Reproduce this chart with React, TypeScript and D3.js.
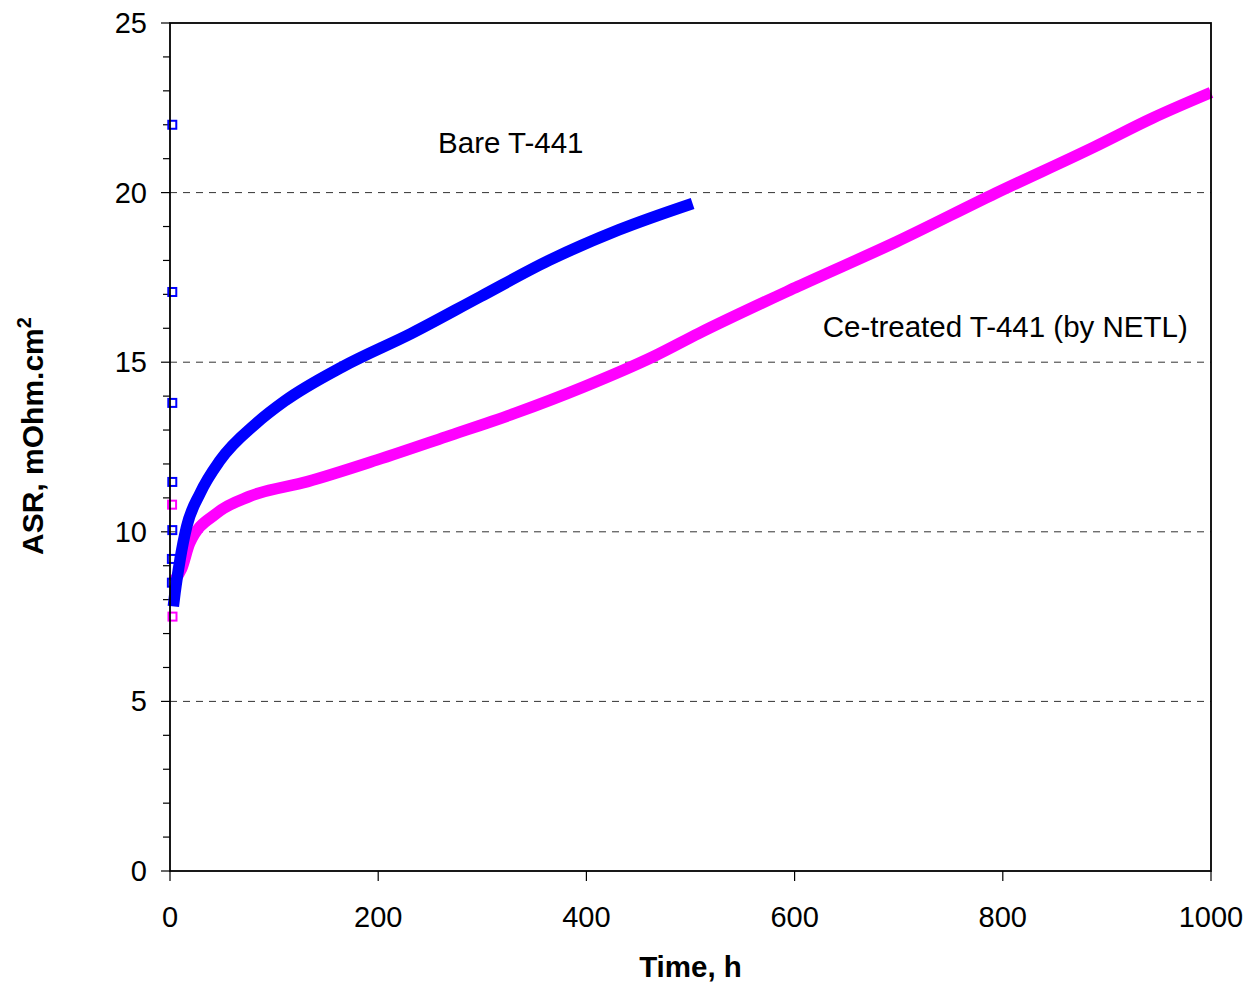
import React from 'react';
import * as d3 from 'd3';

// Bare T-441: first readings (drawn as open squares) and the main run
const bareStartTime = [2.2, 2.2, 2.2, 2.2, 2.2, 1.8, 1.8];
const bareStartAsr = [22.0, 17.07, 13.8, 11.47, 10.05, 9.2, 8.5];
const bareTime = [3.2, 4.8, 9.6, 16, 29, 48, 83, 110, 166, 232, 298, 364, 431, 502];
const bareAsr = [7.8, 8.2, 9.17, 10.15, 11.14, 12.1, 13.2, 13.85, 14.87, 15.85, 16.93, 18.0, 18.9, 19.68];

// Ce-treated T-441 (by NETL)
const ceStartTime = [2.0, 2.4];
const ceStartAsr = [10.8, 7.5];
const ceTime = [2.5, 11, 19, 45, 77, 132, 199, 265, 331, 398, 464, 508, 603, 698, 793, 888, 944, 1000];
const ceAsr = [8.5, 8.9, 9.67, 10.55, 11.05, 11.48, 12.12, 12.8, 13.49, 14.28, 15.16, 15.85, 17.23, 18.55, 19.98, 21.35, 22.2, 22.95];

const xTicks = [0, 200, 400, 600, 800, 1000];
const yTicks = [0, 5, 10, 15, 20, 25];
const gridValues = [5, 10, 15, 20];

const BLUE = '#0000FF';
const MAGENTA = '#FF00FF';
const FONT = '"Liberation Sans", Arial, sans-serif';

const App = () => {
  const width = 1247;
  const height = 984;
  const left = 170, right = 1211, top = 23, bottom = 871;

  const x = d3.scaleLinear().domain([0, 1000]).range([left, right]);
  const y = d3.scaleLinear().domain([0, 25]).range([bottom, top]);

  const line = d3.line<[number, number]>()
    .x(d => x(d[0]))
    .y(d => y(d[1]))
    .curve(d3.curveMonotoneX);

  const barePath = line(bareTime.map((t, i) => [t, bareAsr[i]]));
  const cePath = line(ceTime.map((t, i) => [t, ceAsr[i]]));

  const minorTicks = d3.range(0, 26, 1);

  const square = (t: number, v: number, color: string, key: string) => (
    <rect key={key} x={x(t) - 4} y={y(v) - 4} width={8} height={8}
      fill="none" stroke={color} strokeWidth={2} />
  );

  return (
    <svg width={width} height={height}
      style={{ position: 'absolute', left: 0, top: 0, background: '#fff' }}
      fontFamily={FONT}>
      <rect x={0} y={0} width={width} height={height} fill="#fff" />

      {/* dashed gridlines */}
      {gridValues.map(v => (
        <line key={'g' + v} x1={left} x2={right} y1={y(v)} y2={y(v)}
          stroke="#333" strokeWidth={1} strokeDasharray="7,6" />
      ))}

      {/* y ticks */}
      {minorTicks.map(v => (
        <line key={'m' + v} x1={left - (v % 5 === 0 ? 9 : 7)} x2={left}
          y1={y(v)} y2={y(v)} stroke="#000" strokeWidth={1.2} />
      ))}
      {yTicks.map(v => (
        <text key={'yl' + v} x={147} y={y(v) + 10} fontSize={29}
          textAnchor="end" fill="#000">{v}</text>
      ))}

      {/* x ticks */}
      {xTicks.map(v => (
        <g key={'x' + v}>
          <line x1={x(v)} x2={x(v)} y1={bottom} y2={bottom + 10} stroke="#000" strokeWidth={1.2} />
          <text x={x(v)} y={927} fontSize={29} textAnchor="middle" fill="#000">{v}</text>
        </g>
      ))}

      {/* series */}
      <path d={cePath || ''} fill="none" stroke={MAGENTA} strokeWidth={11.5} />
      {ceStartTime.map((t, i) => square(t, ceStartAsr[i], MAGENTA, 'cs' + i))}
      {bareStartTime.map((t, i) => square(t, bareStartAsr[i], BLUE, 'bs' + i))}
      <path d={barePath || ''} fill="none" stroke={BLUE} strokeWidth={11.5} />

      {/* frame */}
      <rect x={left} y={top} width={right - left} height={bottom - top}
        fill="none" stroke="#000" strokeWidth={1.8} />

      {/* annotations */}
      <text x={x(257.5)} y={y(21.17)} fontSize={29.5} fill="#000">Bare T-441</text>
      <text x={x(627)} y={y(15.74)} fontSize={29.5} fill="#000">Ce-treated T-441 (by NETL)</text>

      {/* axis titles */}
      <text x={(left + right) / 2} y={977} fontSize={29.5} fontWeight="bold"
        textAnchor="middle" fill="#000">Time, h</text>
      <text transform={`translate(43, 436) rotate(-90)`} fontSize={30} fontWeight="bold"
        textAnchor="middle" fill="#000">
        ASR, mOhm.cm<tspan dy={-12} fontSize={20}>2</tspan>
      </text>
    </svg>
  );
};

export default App;
